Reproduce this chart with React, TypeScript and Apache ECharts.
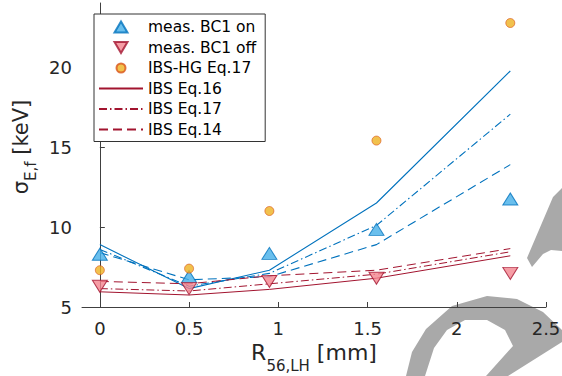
import React, { useEffect, useRef } from 'react';
import * as echarts from 'echarts';

// R56,LH positions [mm]
const xPositions = [0, 0.5, 0.95, 1.55, 2.3];
// measurements / IBS-HG
const measOn = [8.3, 6.9, 8.35, 9.85, 11.75];
const measOff = [6.3, 6.15, 6.6, 6.8, 7.1];
const ibsHg17 = [7.3, 7.4, 11.0, 15.4, 22.75];
// IBS models, BC1 on (blue)
const onEq16 = [8.9, 6.15, 7.3, 11.5, 19.75];
const onEq17 = [8.6, 6.3, 7.1, 10.1, 17.05];
const onEq14 = [8.4, 6.7, 6.9, 8.9, 13.9];
// IBS models, BC1 off (red)
const offEq16 = [5.95, 5.75, 6.1, 6.8, 8.2];
const offEq17 = [6.15, 6.0, 6.45, 7.05, 8.45];
const offEq14 = [6.6, 6.45, 6.95, 7.3, 8.65];
// ticks
const xTicks = [0, 0.5, 1, 1.5, 2, 2.5];
const yTicks = [5, 10, 15, 20];

const FONT = 'DejaVu Sans';
const BLUE = '#0072BD';
const RED = '#A2142F';
const AXIS = '#404040';
const TXT = '#262626';
const DASH = [9, 5];
const DASHDOT = [8, 3, 1.5, 3];
const HIDE = { color: 'rgba(0,0,0,0)', borderColor: 'rgba(0,0,0,0)', borderWidth: 0, opacity: 0 };

const zip = (ys: number[]) => xPositions.map((x, i) => [x, ys[i]]);

const lineSeries = (name: string, ys: number[], color: string, type: any, width = 1) => ({
  type: 'line',
  name,
  data: zip(ys),
  symbol: 'none',
  silent: true,
  lineStyle: { color, width, type },
  itemStyle: { color },
  z: 2,
});

export default function App() {
  const ref = useRef<HTMLDivElement>(null);
  useEffect(() => {
    const chart = echarts.init(ref.current!, null, { renderer: 'svg' });
    const option: any = {
      animation: false,
      backgroundColor: '#ffffff',
      grid: { left: 82, right: 16, top: 3, bottom: 69, outerBoundsMode: 'none' },
      xAxis: {
        type: 'value',
        min: -0.1,
        max: 2.5,
        splitLine: { show: false },
        axisLine: { onZero: false, lineStyle: { color: AXIS, width: 1 } },
        axisTick: { inside: true, length: 5, customValues: xTicks, lineStyle: { color: AXIS } },
        axisLabel: { customValues: xTicks, margin: 12, fontSize: 18, fontFamily: FONT, color: TXT },
        name: '{m|R}{s|56,LH}{m| [mm]}',
        nameLocation: 'middle',
        nameGap: 32,
        nameTextStyle: {
          rich: {
            m: { fontSize: 22, fontFamily: FONT, color: TXT, lineHeight: 22, verticalAlign: 'top' },
            s: { fontSize: 15, fontFamily: FONT, color: TXT, padding: [17, 0, 0, 0], verticalAlign: 'top' },
          },
        },
      },
      yAxis: {
        type: 'value',
        min: 5,
        max: 24,
        interval: 5,
        splitLine: { show: false },
        axisLine: { show: true, lineStyle: { color: AXIS, width: 1 } },
        axisTick: { show: true, inside: true, length: 5, customValues: yTicks, lineStyle: { color: AXIS } },
        axisLabel: { customValues: yTicks, margin: 10, fontSize: 18, fontFamily: FONT, color: TXT },
        name: '{m|σ}{s|E,f}{m| [keV]}',
        nameLocation: 'middle',
        nameRotate: 90,
        nameGap: 41,
        nameTextStyle: {
          padding: [0, 0, 0, 16],
          rich: {
            m: { fontSize: 21, fontFamily: FONT, color: TXT, lineHeight: 21, verticalAlign: 'top' },
            s: { fontSize: 15, fontFamily: FONT, color: TXT, padding: [12.5, 0, 0, 0], verticalAlign: 'top' },
          },
        },
      },
      legend: {
        orient: 'vertical',
        left: 94,
        top: 14,
        itemWidth: 44,
        itemHeight: 14,
        itemGap: 4.5,
        padding: [5, 9, 4, 4],
        borderColor: '#333333',
        borderWidth: 1,
        backgroundColor: '#ffffff',
        selectedMode: false,
        textStyle: { fontFamily: FONT, fontSize: 15.5, color: '#000000' },
        data: [
          { name: 'meas. BC1 on', icon: 'path://M0 0M14 14M0.5 12.5L7 1.5L13.5 12.5Z' },
          { name: 'meas. BC1 off', icon: 'path://M0 0M14 14M0.5 1.5L13.5 1.5L7 12.5Z' },
          { name: 'IBS-HG Eq.17', icon: 'path://M0 0M14 14M7 2.5A4.5 4.5 0 1 1 7 11.5A4.5 4.5 0 1 1 7 2.5Z' },
          { name: 'IBS Eq.16', itemStyle: HIDE },
          { name: 'IBS Eq.17', itemStyle: HIDE },
          { name: 'IBS Eq.14', itemStyle: HIDE },
        ],
      },
      graphic: [
        {
          type: 'polygon',
          z: -10,
          silent: true,
          shape: { points: [[562, 188], [553, 197], [527, 258], [532, 267], [543, 254], [551, 250], [562, 251]] },
          style: { fill: '#a9a9a9' },
        },
        {
          type: 'polygon',
          z: -10,
          silent: true,
          shape: {
            points: [
              [406, 376], [412, 352], [426, 329], [452, 306], [487, 296], [517, 299], [543, 312], [562, 330],
              [562, 342], [508, 376], [486, 376], [513, 346], [505, 330], [487, 320], [465, 320], [447, 330],
              [434, 348], [425, 376],
            ],
          },
          style: { fill: '#a9a9a9' },
        },
      ],
      series: [
        lineSeries('IBS Eq.16 (on)', onEq16, BLUE, 'solid', 1.1),
        lineSeries('IBS Eq.17 (on)', onEq17, BLUE, DASHDOT, 1.1),
        lineSeries('IBS Eq.14 (on)', onEq14, BLUE, DASH, 1.1),
        lineSeries('IBS Eq.16', offEq16, RED, 'solid', 1),
        lineSeries('IBS Eq.17', offEq17, RED, DASHDOT, 1),
        lineSeries('IBS Eq.14', offEq14, RED, DASH, 1),
        {
          type: 'scatter',
          name: 'meas. BC1 on',
          data: zip(measOn),
          symbol: 'triangle',
          symbolSize: [15, 12],
          itemStyle: { color: '#45AFE8', borderColor: BLUE, borderWidth: 1 },
          z: 3,
        },
        {
          type: 'scatter',
          name: 'meas. BC1 off',
          data: zip(measOff),
          symbol: 'triangle',
          symbolRotate: 180,
          symbolSize: [15, 12],
          itemStyle: { color: '#F4848E', borderColor: RED, borderWidth: 1 },
          z: 3,
        },
        {
          type: 'scatter',
          name: 'IBS-HG Eq.17',
          data: zip(ibsHg17),
          symbol: 'circle',
          symbolSize: 9,
          itemStyle: { color: '#EDB120', borderColor: '#D95319', borderWidth: 0.8 },
          z: 3,
        },
      ],
    };
    chart.setOption(option);
    return () => chart.dispose();
  }, []);
  return (
    <div
      ref={ref}
      style={{ position: 'fixed', left: 0, top: 0, width: 562, height: 376, background: '#ffffff' }}
    />
  );
}
